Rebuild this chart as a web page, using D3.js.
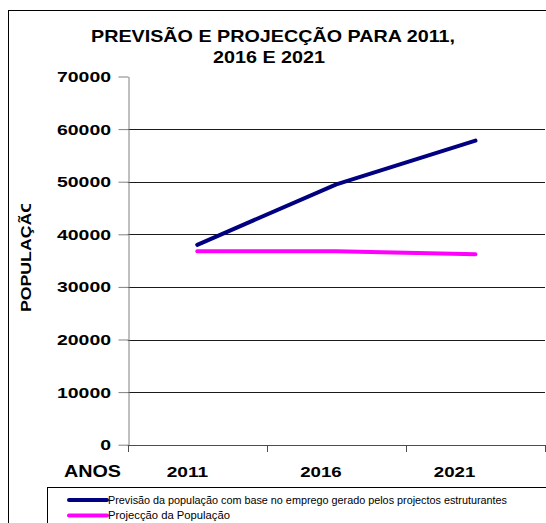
<!DOCTYPE html>
<html>
<head>
<meta charset="utf-8">
<script src="https://cdn.jsdelivr.net/npm/d3@7"></script>
<style>
  body { margin: 0; background: #fff; }
  text { font-family: "Liberation Sans", Arial, sans-serif; }
</style>
</head>
<body>
<div id="chart"></div>
<script>
// DATA
const categories = ['2011', '2016', '2021'];
const previsao = [38000, 49500, 57800];
const projeccao = [36800, 36800, 36200];
const yTicks = [0, 10000, 20000, 30000, 40000, 50000, 60000, 70000];
const titleLines = ['PREVISÃO E PROJECÇÃO PARA 2011,', '2016 E 2021'];
const legendLabels = [
  'Previsão da população com base no emprego gerado pelos projectos estruturantes',
  'Projecção da População'
];
const seriesColors = ['#000080', '#ff00ff'];

// chart params
const W = 546, H = 523;
const plot = { left: 127.7, right: 545, top: 76.5, bottom: 444.7 };

const svg = d3.select('#chart').append('svg')
  .attr('width', W)
  .attr('height', H);

// outer frame (runs off the right / bottom edge like the original)
svg.append('rect')
  .attr('x', 8.5).attr('y', 10.5)
  .attr('width', 600).attr('height', 600)
  .attr('fill', 'none')
  .attr('stroke', '#000');

// scales
const x = d3.scaleBand()
  .domain(categories)
  .range([plot.left, plot.right])
  .paddingInner(0).paddingOuter(0);
const y = d3.scaleLinear()
  .domain([0, 70000])
  .range([plot.bottom, plot.top]);

// gridlines
svg.append('g')
  .selectAll('line')
  .data(yTicks.filter(d => d > 0 && d < 70000))
  .enter().append('line')
    .attr('x1', plot.left).attr('x2', plot.right)
    .attr('y1', d => Math.round(y(d)) + 0.5)
    .attr('y2', d => Math.round(y(d)) + 0.5)
    .attr('stroke', '#1a1a1a');

// y axis
const yAxis = svg.append('g')
  .attr('transform', `translate(${Math.round(plot.left) + 0.5},0)`)
  .call(d3.axisLeft(y).tickValues(yTicks).tickSize(10).tickSizeOuter(0).tickFormat(''));
yAxis.select('.domain').attr('stroke', '#808080');
yAxis.selectAll('.tick line').attr('stroke', '#808080');

svg.append('g')
  .selectAll('text')
  .data(yTicks)
  .enter().append('text')
    .attr('x', 111)
    .attr('y', d => y(d) + 5.5)
    .attr('text-anchor', 'end')
    .attr('font-size', 15)
    .attr('font-weight', 'bold')
    .attr('textLength', d => String(d).length * 10.8)
    .attr('lengthAdjust', 'spacingAndGlyphs')
    .text(d => d);

// x axis line + ticks on band boundaries
const xBounds = categories.map(c => x(c)).concat([plot.right]);
const xAx = svg.append('g');
xAx.append('line')
  .attr('x1', plot.left).attr('x2', plot.right)
  .attr('y1', Math.round(plot.bottom) + 0.5).attr('y2', Math.round(plot.bottom) + 0.5)
  .attr('stroke', '#4d4d4d');
xAx.selectAll('.xt')
  .data(xBounds)
  .enter().append('line')
    .attr('class', 'xt')
    .attr('x1', d => Math.round(d) + 0.5).attr('x2', d => Math.round(d) + 0.5)
    .attr('y1', Math.round(plot.bottom)).attr('y2', Math.round(plot.bottom) + 7)
    .attr('stroke', '#4d4d4d');

// x labels (drawn a bit left of the band centre, as in the original)
svg.append('g')
  .selectAll('text')
  .data(categories)
  .enter().append('text')
    .attr('x', d => {
      const c = x(d) + x.bandwidth() / 2;
      return plot.left + (c - plot.left) * 0.96 - 7;
    })
    .attr('y', 476.5)
    .attr('text-anchor', 'middle')
    .attr('font-size', 15)
    .attr('font-weight', 'bold')
    .attr('textLength', 41.5)
    .attr('lengthAdjust', 'spacingAndGlyphs')
    .text(d => d);

svg.append('text')
  .attr('x', 64).attr('y', 476.5)
  .attr('font-size', 16)
  .attr('font-weight', 'bold')
  .attr('textLength', 57)
  .attr('lengthAdjust', 'spacingAndGlyphs')
  .text('ANOS');

// y title, last letter cut off at the top like the source
svg.append('clipPath').attr('id', 'yclip')
  .append('rect').attr('x', 0).attr('y', 204).attr('width', 60).attr('height', 200);
svg.append('g')
  .attr('clip-path', 'url(#yclip)')
  .append('text')
    .attr('transform', 'translate(31,312) rotate(-90)')
    .attr('font-size', 14)
    .attr('font-weight', 'bold')
    .attr('textLength', 113)
    .attr('lengthAdjust', 'spacingAndGlyphs')
    .text('POPULAÇÃO');

// title
svg.append('g')
  .selectAll('text')
  .data(titleLines)
  .enter().append('text')
    .attr('x', (d, i) => i === 0 ? 273 : 269)
    .attr('y', (d, i) => 41.8 + i * 21.6)
    .attr('text-anchor', 'middle')
    .attr('font-size', 16.5)
    .attr('font-weight', 'bold')
    .attr('textLength', (d, i) => i === 0 ? 364 : 112)
    .attr('lengthAdjust', 'spacingAndGlyphs')
    .text(d => d);

// lines
const line = d3.line()
  .x((d, i) => x(categories[i]) + x.bandwidth() / 2)
  .y(d => y(d));

[previsao, projeccao].forEach((series, k) => {
  svg.append('path')
    .datum(series)
    .attr('d', line)
    .attr('fill', 'none')
    .attr('stroke', seriesColors[k])
    .attr('stroke-width', 4)
    .attr('stroke-linecap', 'round')
    .attr('stroke-linejoin', 'round');
});

// legend
const legend = svg.append('g');
legend.append('rect')
  .attr('x', 47.5).attr('y', 487.5)
  .attr('width', 560).attr('height', 60)
  .attr('fill', '#fff')
  .attr('stroke', '#000');

const legendRows = legend.selectAll('.row')
  .data(legendLabels)
  .enter().append('g')
    .attr('class', 'row')
    .attr('transform', (d, i) => `translate(0,${500 + i * 15.5})`);
legendRows.append('line')
  .attr('x1', 69).attr('x2', 107)
  .attr('stroke', (d, i) => seriesColors[i])
  .attr('stroke-width', 4)
  .attr('stroke-linecap', 'round');
legendRows.append('text')
  .attr('x', 108)
  .attr('y', 3.8)
  .attr('font-size', 10)
  .attr('textLength', (d, i) => i === 0 ? 399 : 122)
  .attr('lengthAdjust', 'spacingAndGlyphs')
  .text(d => d);
</script>
</body>
</html>
